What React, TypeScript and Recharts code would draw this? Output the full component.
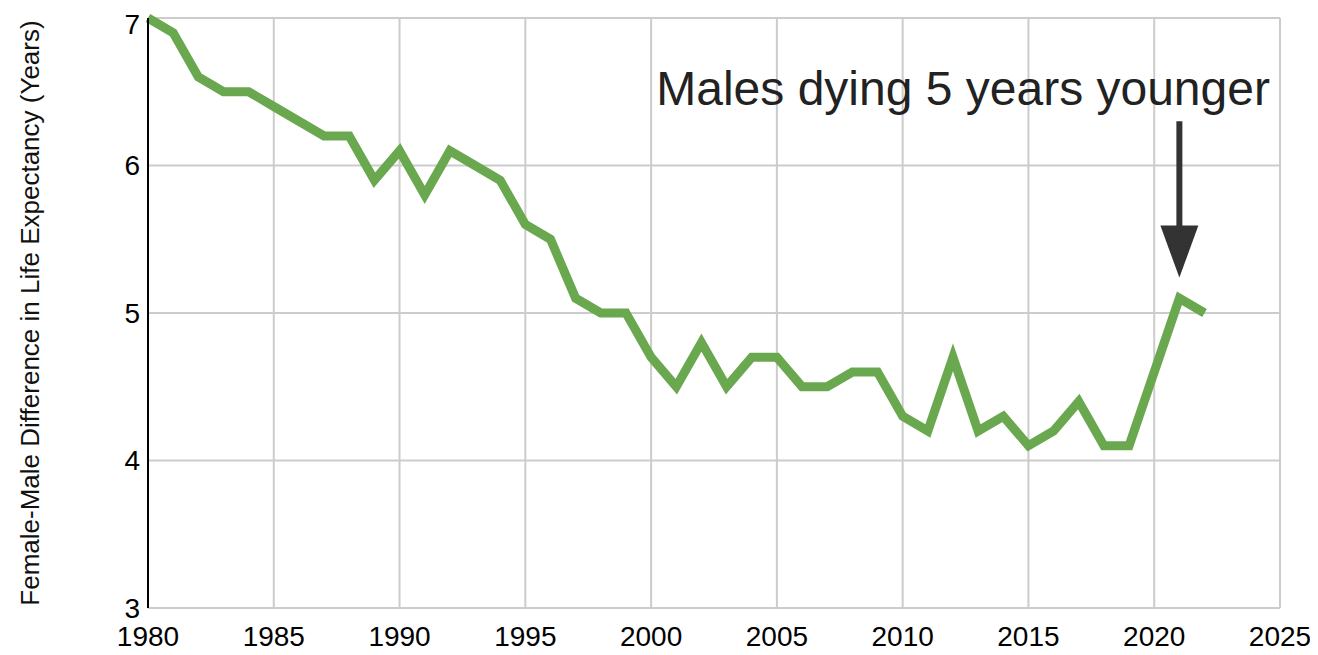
import { LineChart, Line, XAxis, YAxis, CartesianGrid, ReferenceLine, ReferenceDot, Label } from 'recharts';

const years = [
  1980, 1981, 1982, 1983, 1984, 1985, 1986, 1987, 1988, 1989,
  1990, 1991, 1992, 1993, 1994, 1995, 1996, 1997, 1998, 1999,
  2000, 2001, 2002, 2003, 2004, 2005, 2006, 2007, 2008, 2009,
  2010, 2011, 2012, 2013, 2014, 2015, 2016, 2017, 2018, 2019,
  2020, 2021, 2022,
];

const gap = [
  7.0, 6.9, 6.6, 6.5, 6.5, 6.4, 6.3, 6.2, 6.2, 5.9,
  6.1, 5.8, 6.1, 6.0, 5.9, 5.6, 5.5, 5.1, 5.0, 5.0,
  4.7, 4.5, 4.8, 4.5, 4.7, 4.7, 4.5, 4.5, 4.6, 4.6,
  4.3, 4.2, 4.7, 4.2, 4.3, 4.1, 4.2, 4.4, 4.1, 4.1,
  4.6, 5.1, 5.0,
];

const xTicks = [1980, 1985, 1990, 1995, 2000, 2005, 2010, 2015, 2020, 2025];
const yTicks = [3, 4, 5, 6, 7];

const annotation = 'Males dying 5 years younger';

const data = years.map((year, i) => ({ year, gap: gap[i] }));

const font = '"Liberation Sans", Arial, sans-serif';

export default function App() {
  return (
    <div style={{ width: 1310, height: 647 }}>
      <LineChart width={1310} height={647} data={data} margin={{ top: 10, right: 38, bottom: 7, left: 0 }}>
        <CartesianGrid stroke="#cccccc" strokeWidth={2} />
        <XAxis
          dataKey="year"
          type="number"
          domain={[1980, 2025]}
          ticks={xTicks}
          axisLine={false}
          tickLine={false}
          tickMargin={12}
          height={40}
          tick={{ fill: '#000', fontSize: 28, fontFamily: font }}
        />
        <YAxis
          domain={[3, 7]}
          ticks={yTicks}
          width={140}
          axisLine={{ stroke: '#000', strokeWidth: 2 }}
          tickLine={false}
          tick={{ fill: '#000', fontSize: 28, fontFamily: font }}
        >
          <Label
            value="Female-Male Difference in Life Expectancy (Years)"
            angle={-90}
            position="insideLeft"
            offset={22}
            style={{ textAnchor: 'middle', fill: '#111', fontSize: 26, fontFamily: font }}
          />
        </YAxis>
        <Line
          type="linear"
          dataKey="gap"
          stroke="#6aa84f"
          strokeWidth={9}
          dot={false}
          isAnimationActive={false}
        />
        <ReferenceLine
          segment={[{ x: 2021, y: 6.3 }, { x: 2021, y: 5.55 }]}
          stroke="#333333"
          strokeWidth={6}
        />
        <ReferenceDot
          x={2021}
          y={5.24}
          r={0}
          shape={(p: any) => (
            <polygon
              points={`${p.cx},${p.cy} ${p.cx - 19},${p.cy - 52} ${p.cx + 19},${p.cy - 52}`}
              fill="#333333"
            />
          )}
        />
        <ReferenceDot
          x={2024.6}
          y={6.41}
          r={0}
          shape={(p: any) => (
            <text
              x={p.cx}
              y={p.cy}
              textAnchor="end"
              fill="#222"
              fontSize={48}
              fontFamily={font}
            >
              {annotation}
            </text>
          )}
        />
      </LineChart>
    </div>
  );
}
